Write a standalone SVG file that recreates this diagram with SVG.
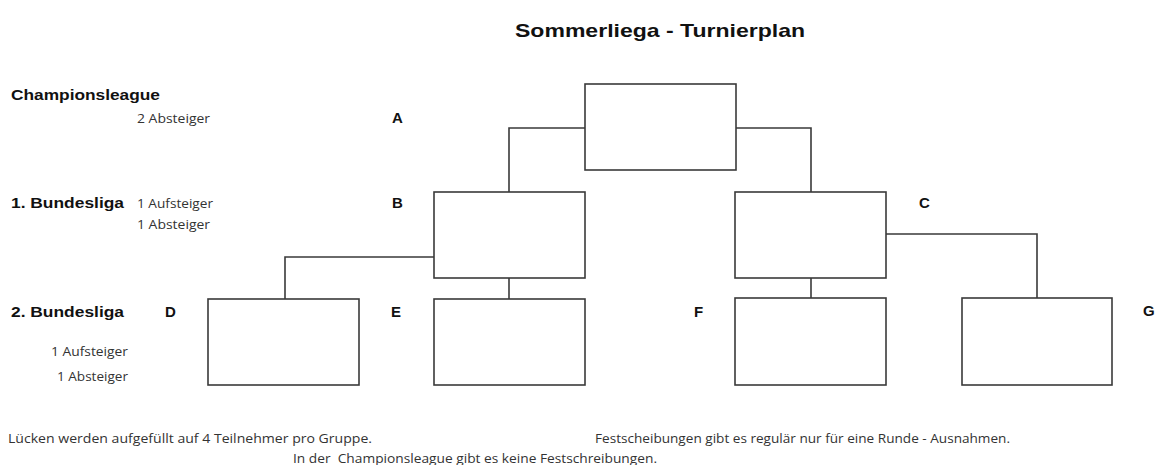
<svg xmlns="http://www.w3.org/2000/svg" width="1160" height="465" viewBox="0 0 1160 465">
<style>
.box{fill:#fff;stroke:#3a3a3a;stroke-width:1.6}
.con{fill:none;stroke:#3a3a3a;stroke-width:1.6}
.title{font-family:"Liberation Sans",Arial,sans-serif;font-weight:bold;font-size:19px;fill:#111}
.lbl{font-family:"Liberation Sans",Arial,sans-serif;font-weight:bold;font-size:15px;fill:#111}
.sm{font-family:"Open Sans","Liberation Sans",sans-serif;font-size:13.5px;fill:#333}
.note{font-family:"Open Sans","Liberation Sans",sans-serif;font-size:13.5px;fill:#333}
</style>
<rect width="1160" height="465" fill="#fff"/>
<text class="title" x="515" y="37" textLength="290" lengthAdjust="spacingAndGlyphs">Sommerliega - Turnierplan</text>

<g id="labels">
<text class="lbl" x="11" y="100" textLength="149" lengthAdjust="spacingAndGlyphs">Championsleague</text>
<text class="sm" x="137" y="123" textLength="73" lengthAdjust="spacingAndGlyphs">2 Absteiger</text>
<text class="lbl" x="11" y="208" textLength="113" lengthAdjust="spacingAndGlyphs">1. Bundesliga</text>
<text class="sm" x="137" y="208" textLength="76" lengthAdjust="spacingAndGlyphs">1 Aufsteiger</text>
<text class="sm" x="137" y="229" textLength="73" lengthAdjust="spacingAndGlyphs">1 Absteiger</text>
<text class="lbl" x="11" y="317" textLength="113" lengthAdjust="spacingAndGlyphs">2. Bundesliga</text>
<text class="sm" x="51" y="356" textLength="77" lengthAdjust="spacingAndGlyphs">1 Aufsteiger</text>
<text class="sm" x="57" y="381" textLength="71" lengthAdjust="spacingAndGlyphs">1 Absteiger</text>
</g>

<g id="connectors">
<polyline class="con" points="585,128 509,128 509,192"/>
<polyline class="con" points="736,128 811,128 811,192"/>
<polyline class="con" points="434,257 285,257 285,299"/>
<line class="con" x1="509" y1="278" x2="509" y2="299"/>
<line class="con" x1="811" y1="278" x2="811" y2="298"/>
<polyline class="con" points="886,234 1037,234 1037,298"/>
</g>

<g id="node-A">
<rect class="box" x="585" y="84" width="151" height="86"/>
<text class="lbl" x="392" y="123">A</text>
</g>
<g id="node-B">
<rect class="box" x="434" y="192" width="151" height="86"/>
<text class="lbl" x="392" y="208">B</text>
</g>
<g id="node-C">
<rect class="box" x="735" y="192" width="151" height="86"/>
<text class="lbl" x="919" y="208">C</text>
</g>
<g id="node-D">
<rect class="box" x="208" y="299" width="151" height="86"/>
<text class="lbl" x="165" y="317">D</text>
</g>
<g id="node-E">
<rect class="box" x="434" y="299" width="151" height="86"/>
<text class="lbl" x="391" y="317">E</text>
</g>
<g id="node-F">
<rect class="box" x="735" y="298" width="151" height="87"/>
<text class="lbl" x="694" y="317">F</text>
</g>
<g id="node-G">
<rect class="box" x="962" y="298" width="150" height="87"/>
<text class="lbl" x="1143" y="316">G</text>
</g>

<g id="notes">
<text class="note" x="8" y="443" textLength="364" lengthAdjust="spacingAndGlyphs">Lücken werden aufgefüllt auf 4 Teilnehmer pro Gruppe.</text>
<text class="note" x="595" y="443" textLength="415" lengthAdjust="spacingAndGlyphs">Festscheibungen gibt es regulär nur für eine Runde - Ausnahmen.</text>
<text class="note" x="293" y="463" textLength="364" lengthAdjust="spacingAndGlyphs" xml:space="preserve">In der  Championsleague gibt es keine Festschreibungen.</text>
</g>
</svg>
